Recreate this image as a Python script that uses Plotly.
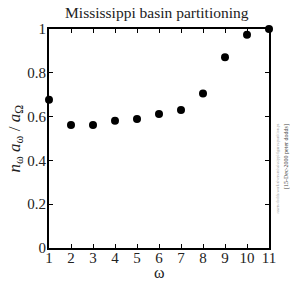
import plotly.graph_objects as go

orders = [1, 2, 3, 4, 5, 6, 7, 8, 9, 10, 11]
ratios = [0.677, 0.562, 0.562, 0.581, 0.589, 0.612, 0.630, 0.705, 0.871, 0.974, 1.0]
x_ticks = [1, 2, 3, 4, 5, 6, 7, 8, 9, 10, 11]
y_ticks = [0, 0.2, 0.4, 0.6, 0.8, 1]
y_ticktext = ["0", "0.2", "0.4", "0.6", "0.8", "1"]

serif = "Liberation Serif"

fig = go.Figure()
fig.add_trace(go.Scatter(
    x=orders, y=ratios, mode="markers",
    marker=dict(color="black", size=8),
    cliponaxis=False, showlegend=False,
))

axis_common = dict(
    showgrid=False, zeroline=False, showline=True, linecolor="black", linewidth=2,
    mirror="allticks", ticks="inside", ticklen=4, tickwidth=1, tickcolor="black",
    tickfont=dict(family=serif, size=15, color="#222"), automargin=False,
)
fig.update_xaxes(range=[1, 11], tickvals=x_ticks, ticklabelstandoff=-5, **axis_common)
fig.update_yaxes(range=[0, 1], tickvals=y_ticks, ticktext=y_ticktext, ticklabelstandoff=-2, **axis_common)

fig.update_layout(
    width=295, height=283,
    margin=dict(l=49, r=26, t=29, b=35),
    paper_bgcolor="white", plot_bgcolor="white",
    title=dict(text="Mississippi basin partitioning", x=0.49, xref="paper", xanchor="center",
               y=0.957, yanchor="middle",
               font=dict(family=serif, size=15.5, color="#222"), automargin=False),
    annotations=[
        dict(text="ω", x=0.5, xref="paper", y=0, yref="paper", yshift=-24, yanchor="middle",
             showarrow=False, font=dict(family=serif, size=16, color="#222")),
        dict(text="<i>n</i><sub>ω</sub> <i>a</i><sub>ω</sub> / <i>a</i><sub>Ω</sub>",
             x=0, xref="paper", xshift=-34, xanchor="center", y=0.5, yref="paper", yanchor="middle",
             textangle=-90, showarrow=False, font=dict(family=serif, size=17, color="#222")),
        dict(text="[15-Dec-2000 peter dodds]", x=1.0, xref="paper", xshift=23, y=0.26, yref="paper",
             textangle=-90, showarrow=False, font=dict(family=serif, size=6, color="#444")),
        dict(text="/users/dodds/work/rivers/mississippi/figures/partition.ps", x=1.0, xref="paper", xshift=13,
             y=0.36, yref="paper", textangle=-90, showarrow=False, font=dict(family=serif, size=4, color="#999")),
    ],
)

fig.write_html("out.html", config={"displayModeBar": False},
               post_script="document.body.style.margin='0';")
